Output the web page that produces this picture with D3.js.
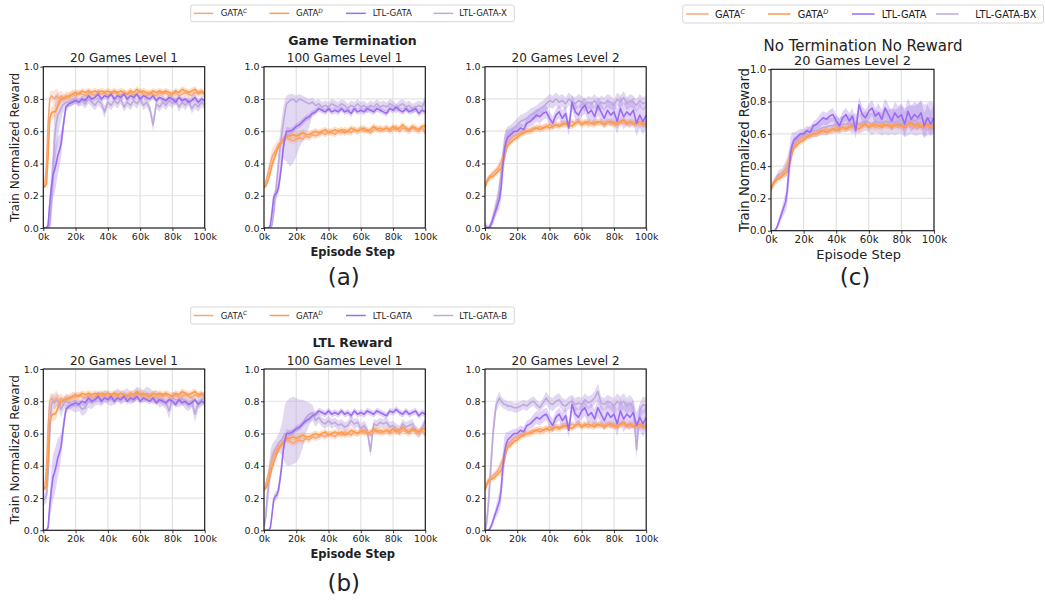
<!DOCTYPE html>
<html>
<head>
<meta charset="utf-8">
<script src="https://cdn.jsdelivr.net/npm/d3@7"></script>
<style>
body { margin: 0; background: #fff; }
text { font-family: "DejaVu Sans", sans-serif; fill: #222; }
</style>
</head>
<body>
<svg id="chart" width="1045" height="601"></svg>
<script>
// episode steps (in thousands)
var steps = [0,1,2,3,4,5,6,7,8,9,10,11,12,13,14,
  16,18,20,22,24,26,28,30,32,34,36,38,40,42,44,
  46,48,50,52,54,56,58,60,62,64,66,68,70,72,74,
  76,78,80,82,84,86,88,90,92,94,96,98,100];

var xTicks = [0,20,40,60,80,100];
var xTickLabels = ['0k','20k','40k','60k','80k','100k'];
var yTicks = [0,0.2,0.4,0.6,0.8,1.0];

var legendA = [['GATA','C'],['GATA','D'],['LTL-GATA',''],['LTL-GATA-X','']];
var legendB = [['GATA','C'],['GATA','D'],['LTL-GATA',''],['LTL-GATA-B','']];
var legendC = [['GATA','C'],['GATA','D'],['LTL-GATA',''],['LTL-GATA-BX','']];
var colors = ['#f8a77b','#fd9a4c','#9a6cef','#bea9df'];

// ---- 20 Games Level 1 (shared baselines) ----
var gataC_L1_20 = [0.25,0.27,0.40,0.65,0.80,0.82,0.81,0.80,0.82,0.81,0.80,0.82,0.81,0.80,0.82,
  0.81,0.83,0.82,0.84,0.83,0.82,0.84,0.83,0.82,0.84,0.83,0.84,0.82,0.83,0.84,
  0.83,0.82,0.84,0.83,0.84,0.82,0.83,0.85,0.83,0.82,0.84,0.83,0.82,0.84,0.83,
  0.84,0.82,0.83,0.84,0.82,0.83,0.84,0.83,0.82,0.84,0.83,0.84,0.83];
var gataC_L1_20_sd = [0.01,0.01,0.05,0.08,0.05,0.03,0.04,0.05,0.05,0.04,0.04,0.03,0.03,0.03,0.03,
  0.03,0.03,0.03,0.02,0.02,0.02,0.02,0.02,0.02,0.02,0.02,0.02,0.02,0.02,0.02,
  0.02,0.02,0.02,0.02,0.02,0.02,0.02,0.02,0.02,0.02,0.02,0.02,0.02,0.02,0.02,
  0.02,0.02,0.02,0.02,0.02,0.02,0.02,0.02,0.02,0.02,0.02,0.02,0.02];
var gataD_L1_20 = [0.25,0.26,0.27,0.45,0.68,0.71,0.72,0.72,0.73,0.76,0.78,0.80,0.80,0.81,0.81,
  0.82,0.83,0.84,0.83,0.85,0.84,0.85,0.84,0.85,0.84,0.85,0.84,0.85,0.84,0.85,
  0.84,0.85,0.84,0.83,0.85,0.84,0.86,0.84,0.85,0.84,0.83,0.85,0.84,0.85,0.84,
  0.85,0.84,0.83,0.85,0.84,0.86,0.85,0.84,0.85,0.86,0.84,0.85,0.83];
var gataD_L1_20_sd = [0.01,0.01,0.02,0.05,0.05,0.04,0.04,0.04,0.04,0.03,0.03,0.03,0.02,0.02,0.02,
  0.02,0.02,0.02,0.02,0.02,0.02,0.02,0.02,0.02,0.02,0.02,0.02,0.02,0.02,0.02,
  0.02,0.02,0.02,0.02,0.02,0.02,0.02,0.02,0.02,0.02,0.02,0.02,0.02,0.02,0.02,
  0.02,0.02,0.02,0.02,0.02,0.02,0.02,0.02,0.02,0.02,0.02,0.02,0.02];
var ltl_L1_20 = [0,0,0,0.02,0.15,0.25,0.33,0.36,0.40,0.45,0.48,0.52,0.60,0.68,0.75,
  0.77,0.78,0.79,0.78,0.80,0.79,0.82,0.80,0.81,0.83,0.80,0.82,0.81,0.83,0.80,
  0.82,0.81,0.83,0.80,0.82,0.81,0.83,0.80,0.82,0.81,0.80,0.82,0.79,0.81,0.80,
  0.79,0.81,0.80,0.78,0.81,0.79,0.80,0.78,0.79,0.81,0.78,0.80,0.79];
var ltl_L1_20_sd = [0,0,0,0.03,0.08,0.12,0.14,0.14,0.13,0.12,0.10,0.08,0.06,0.04,0.03,
  0.02,0.02,0.02,0.02,0.02,0.03,0.02,0.02,0.02,0.03,0.02,0.02,0.02,0.02,0.02,
  0.02,0.02,0.02,0.02,0.02,0.02,0.02,0.02,0.02,0.02,0.02,0.02,0.02,0.02,0.02,
  0.02,0.02,0.02,0.02,0.02,0.02,0.02,0.02,0.02,0.02,0.02,0.02,0.02];

// ---- 100 Games Level 1 (shared baselines) ----
var gataC_L1_100 = [0.25,0.28,0.32,0.36,0.40,0.44,0.46,0.48,0.50,0.52,0.53,0.54,0.55,0.56,0.56,
  0.55,0.54,0.55,0.56,0.55,0.57,0.56,0.58,0.57,0.58,0.59,0.58,0.60,0.59,0.58,
  0.60,0.59,0.61,0.60,0.59,0.61,0.60,0.62,0.60,0.61,0.59,0.61,0.62,0.60,0.61,
  0.62,0.60,0.61,0.63,0.60,0.62,0.61,0.60,0.62,0.61,0.60,0.62,0.59];
var gataC_L1_100_sd = [0.01,0.02,0.03,0.04,0.05,0.05,0.05,0.04,0.04,0.03,0.03,0.03,0.02,0.02,0.02,
  0.02,0.02,0.02,0.02,0.02,0.02,0.02,0.02,0.02,0.02,0.02,0.02,0.02,0.02,0.02,
  0.02,0.02,0.02,0.02,0.02,0.02,0.02,0.02,0.02,0.02,0.02,0.02,0.02,0.02,0.02,
  0.02,0.02,0.02,0.02,0.02,0.02,0.02,0.02,0.02,0.02,0.02,0.02,0.02];
var gataD_L1_100 = [0.25,0.26,0.28,0.31,0.35,0.39,0.42,0.45,0.48,0.50,0.52,0.53,0.55,0.56,0.57,
  0.57,0.58,0.57,0.58,0.59,0.58,0.58,0.59,0.60,0.59,0.60,0.61,0.59,0.60,0.61,
  0.60,0.61,0.59,0.60,0.62,0.61,0.60,0.61,0.62,0.60,0.61,0.63,0.61,0.62,0.61,
  0.62,0.61,0.63,0.61,0.62,0.64,0.62,0.61,0.63,0.62,0.61,0.63,0.63];
var gataD_L1_100_sd = [0.01,0.01,0.02,0.02,0.03,0.03,0.03,0.03,0.02,0.02,0.02,0.02,0.02,0.02,0.02,
  0.02,0.02,0.02,0.02,0.02,0.02,0.02,0.02,0.02,0.02,0.02,0.02,0.02,0.02,0.02,
  0.02,0.02,0.02,0.02,0.02,0.02,0.02,0.02,0.02,0.02,0.02,0.02,0.02,0.02,0.02,
  0.02,0.02,0.02,0.02,0.02,0.02,0.02,0.02,0.02,0.02,0.02,0.02,0.02];
var ltl_L1_100 = [0,0,0,0,0.02,0.10,0.19,0.21,0.22,0.25,0.32,0.40,0.50,0.56,0.60,
  0.60,0.61,0.63,0.64,0.66,0.68,0.69,0.71,0.72,0.74,0.73,0.72,0.74,0.72,0.73,
  0.72,0.74,0.72,0.73,0.71,0.74,0.72,0.73,0.72,0.74,0.73,0.72,0.74,0.73,0.72,
  0.71,0.74,0.73,0.75,0.73,0.72,0.74,0.72,0.73,0.74,0.71,0.73,0.72];
var ltl_L1_100_sd = [0,0,0,0,0.01,0.03,0.03,0.03,0.03,0.04,0.05,0.05,0.04,0.03,0.03,
  0.02,0.02,0.02,0.02,0.02,0.02,0.02,0.02,0.02,0.02,0.02,0.02,0.02,0.02,0.02,
  0.02,0.02,0.02,0.02,0.02,0.02,0.02,0.02,0.02,0.02,0.02,0.02,0.02,0.02,0.02,
  0.02,0.02,0.02,0.02,0.02,0.02,0.02,0.02,0.02,0.02,0.02,0.02,0.02];

// ---- 20 Games Level 2 (shared baselines) ----
var gataC_L2_20 = [0.26,0.29,0.31,0.32,0.33,0.34,0.35,0.36,0.37,0.39,0.41,0.44,0.47,0.50,0.53,
  0.55,0.57,0.58,0.59,0.60,0.60,0.61,0.62,0.62,0.63,0.62,0.63,0.64,0.63,0.64,
  0.64,0.65,0.64,0.65,0.66,0.65,0.66,0.65,0.66,0.64,0.65,0.66,0.65,0.66,0.65,
  0.66,0.65,0.64,0.66,0.65,0.66,0.64,0.65,0.66,0.65,0.64,0.65,0.64];
var gataC_L2_20_sd = [0.01,0.02,0.02,0.02,0.02,0.02,0.02,0.02,0.02,0.03,0.03,0.03,0.03,0.03,0.02,
  0.02,0.02,0.02,0.02,0.02,0.02,0.02,0.02,0.02,0.02,0.02,0.02,0.02,0.02,0.02,
  0.02,0.02,0.02,0.02,0.02,0.02,0.02,0.02,0.02,0.02,0.02,0.02,0.02,0.02,0.02,
  0.02,0.02,0.02,0.02,0.02,0.02,0.02,0.02,0.02,0.02,0.02,0.02,0.02];
var gataD_L2_20 = [0.25,0.28,0.30,0.31,0.32,0.32,0.33,0.34,0.35,0.36,0.37,0.40,0.44,0.48,0.51,
  0.53,0.55,0.56,0.58,0.59,0.60,0.60,0.61,0.62,0.61,0.62,0.63,0.62,0.63,0.64,
  0.63,0.64,0.65,0.64,0.63,0.65,0.66,0.64,0.65,0.66,0.65,0.64,0.66,0.65,0.64,
  0.65,0.66,0.65,0.64,0.66,0.67,0.65,0.66,0.64,0.65,0.66,0.64,0.65];
var gataD_L2_20_sd = [0.01,0.02,0.02,0.02,0.02,0.02,0.02,0.02,0.02,0.02,0.03,0.03,0.03,0.03,0.02,
  0.02,0.02,0.02,0.02,0.02,0.02,0.02,0.02,0.02,0.02,0.02,0.02,0.02,0.02,0.02,
  0.02,0.02,0.02,0.02,0.02,0.02,0.02,0.02,0.02,0.02,0.02,0.02,0.02,0.02,0.02,
  0.02,0.02,0.02,0.02,0.02,0.02,0.02,0.02,0.02,0.02,0.02,0.02,0.02];
var ltl_L2_20 = [0,0,0,0.01,0.03,0.06,0.09,0.12,0.15,0.18,0.25,0.38,0.48,0.53,0.56,
  0.58,0.60,0.60,0.62,0.61,0.65,0.66,0.68,0.70,0.69,0.71,0.72,0.68,0.65,0.70,
  0.72,0.68,0.71,0.62,0.78,0.72,0.70,0.74,0.76,0.71,0.73,0.69,0.76,0.72,0.68,
  0.73,0.70,0.72,0.66,0.74,0.69,0.72,0.70,0.73,0.65,0.70,0.66,0.70];
var ltl_L2_20_sd = [0,0,0,0.01,0.02,0.03,0.03,0.04,0.05,0.06,0.08,0.10,0.10,0.08,0.05,
  0.04,0.03,0.03,0.03,0.03,0.03,0.03,0.04,0.04,0.04,0.04,0.04,0.04,0.04,0.04,
  0.04,0.05,0.05,0.05,0.05,0.05,0.05,0.05,0.05,0.05,0.06,0.06,0.06,0.06,0.06,
  0.07,0.07,0.07,0.08,0.08,0.08,0.08,0.08,0.08,0.08,0.08,0.08,0.08];

// ---- fourth series per panel ----
var ltlX_a1 = [0,0,0,0,0.02,0.15,0.35,0.55,0.65,0.70,0.72,0.74,0.76,0.77,0.78,
  0.78,0.79,0.80,0.78,0.79,0.77,0.80,0.78,0.76,0.79,0.77,0.72,0.78,0.76,0.79,
  0.77,0.80,0.75,0.78,0.76,0.79,0.77,0.80,0.76,0.78,0.74,0.64,0.77,0.75,0.78,
  0.76,0.79,0.77,0.80,0.75,0.78,0.76,0.79,0.74,0.77,0.75,0.78,0.76];
var ltlX_a1_sd = [0,0,0,0,0.05,0.12,0.18,0.20,0.18,0.14,0.10,0.07,0.05,0.04,0.03,
  0.03,0.03,0.03,0.03,0.03,0.03,0.03,0.03,0.03,0.03,0.03,0.04,0.03,0.03,0.03,
  0.03,0.03,0.03,0.03,0.03,0.03,0.03,0.03,0.03,0.03,0.03,0.04,0.03,0.03,0.03,
  0.03,0.03,0.03,0.03,0.03,0.03,0.03,0.03,0.03,0.03,0.03,0.03,0.03];
var ltlX_a2 = [0,0,0,0,0,0.02,0.10,0.20,0.30,0.40,0.50,0.58,0.65,0.72,0.77,
  0.79,0.80,0.78,0.80,0.79,0.78,0.77,0.78,0.76,0.77,0.75,0.76,0.75,0.77,0.76,
  0.75,0.77,0.76,0.74,0.76,0.75,0.77,0.75,0.76,0.74,0.76,0.75,0.77,0.75,0.76,
  0.75,0.77,0.76,0.74,0.76,0.77,0.75,0.76,0.74,0.75,0.76,0.75,0.79];
var ltlX_a2_sd = [0,0,0,0,0,0.01,0.03,0.05,0.06,0.08,0.10,0.10,0.10,0.08,0.05,
  0.04,0.03,0.04,0.03,0.03,0.03,0.03,0.03,0.03,0.03,0.03,0.03,0.03,0.03,0.03,
  0.03,0.03,0.03,0.03,0.03,0.03,0.03,0.03,0.03,0.03,0.03,0.03,0.03,0.03,0.03,
  0.03,0.03,0.03,0.03,0.03,0.03,0.03,0.03,0.03,0.03,0.03,0.03,0.03];
var ltlX_a2_lo = [0,0,0,0,0,0.02,0.05,0.08,0.10,0.12,0.12,0.15,0.22,0.30,0.36,
  0.41,0.40,0.34,0.30,0.25,0.20,0.15,0.08,0.05,0.03,0.03,0.03,0.03,0.03,0.03,
  0.03,0.03,0.03,0.03,0.03,0.03,0.03,0.03,0.03,0.03,0.03,0.03,0.03,0.03,0.03,
  0.03,0.03,0.03,0.03,0.03,0.03,0.03,0.03,0.03,0.03,0.03,0.03,0.03];
var ltlX_a3 = [0.02,0.01,0,0.01,0.03,0.06,0.10,0.14,0.18,0.25,0.33,0.42,0.50,0.55,0.58,
  0.60,0.62,0.64,0.66,0.67,0.68,0.70,0.71,0.72,0.74,0.75,0.77,0.79,0.78,0.80,
  0.78,0.79,0.77,0.80,0.78,0.77,0.79,0.78,0.76,0.78,0.77,0.79,0.76,0.78,0.77,
  0.79,0.78,0.76,0.80,0.78,0.81,0.77,0.79,0.78,0.76,0.79,0.77,0.78];
var ltlX_a3_sd = [0.02,0.02,0.01,0.02,0.03,0.04,0.05,0.05,0.06,0.07,0.08,0.08,0.07,0.06,0.05,
  0.04,0.04,0.04,0.04,0.04,0.04,0.04,0.04,0.04,0.04,0.04,0.04,0.04,0.04,0.04,
  0.04,0.04,0.04,0.04,0.04,0.04,0.04,0.04,0.04,0.04,0.04,0.04,0.04,0.04,0.04,
  0.04,0.04,0.04,0.04,0.04,0.04,0.04,0.04,0.04,0.04,0.04,0.04,0.04];
var ltlB_b1 = [0.18,0.20,0.22,0.35,0.60,0.78,0.80,0.79,0.81,0.80,0.78,0.75,0.77,0.79,0.80,
  0.79,0.78,0.77,0.78,0.75,0.76,0.80,0.79,0.81,0.82,0.81,0.83,0.82,0.81,0.82,
  0.84,0.82,0.83,0.84,0.82,0.83,0.85,0.84,0.83,0.85,0.84,0.82,0.83,0.80,0.81,
  0.79,0.74,0.82,0.81,0.80,0.82,0.79,0.78,0.80,0.72,0.79,0.81,0.82];
var ltlB_b1_sd = [0.03,0.04,0.05,0.10,0.12,0.06,0.04,0.04,0.04,0.04,0.05,0.05,0.04,0.04,0.04,
  0.04,0.04,0.04,0.04,0.04,0.04,0.04,0.04,0.04,0.04,0.04,0.04,0.04,0.04,0.04,
  0.04,0.04,0.04,0.04,0.04,0.04,0.04,0.04,0.04,0.04,0.04,0.04,0.04,0.04,0.04,
  0.04,0.05,0.04,0.04,0.04,0.04,0.04,0.04,0.04,0.05,0.04,0.04,0.04];
var ltlB_b2 = [0.03,0.08,0.20,0.30,0.40,0.45,0.48,0.50,0.52,0.54,0.55,0.56,0.58,0.60,0.60,
  0.61,0.62,0.62,0.63,0.66,0.70,0.72,0.73,0.68,0.70,0.67,0.66,0.68,0.66,0.67,
  0.65,0.66,0.64,0.65,0.68,0.66,0.67,0.63,0.65,0.62,0.49,0.66,0.65,0.67,0.66,
  0.67,0.64,0.65,0.63,0.62,0.66,0.64,0.65,0.66,0.62,0.60,0.63,0.68];
var ltlB_b2_sd = [0.02,0.05,0.08,0.10,0.10,0.08,0.07,0.06,0.06,0.06,0.07,0.10,0.14,0.18,0.20,
  0.21,0.21,0.20,0.18,0.15,0.10,0.07,0.05,0.04,0.03,0.03,0.03,0.03,0.03,0.03,
  0.03,0.03,0.03,0.03,0.03,0.03,0.03,0.03,0.03,0.03,0.04,0.03,0.03,0.03,0.03,
  0.03,0.03,0.03,0.03,0.03,0.03,0.03,0.03,0.03,0.03,0.03,0.03,0.03];
var ltlB_b3 = [0.0,0.05,0.15,0.30,0.45,0.60,0.70,0.78,0.80,0.82,0.80,0.79,0.78,0.78,0.77,
  0.77,0.76,0.76,0.77,0.78,0.77,0.79,0.80,0.78,0.76,0.79,0.82,0.79,0.78,0.80,
  0.81,0.78,0.77,0.79,0.80,0.78,0.79,0.78,0.81,0.79,0.80,0.82,0.86,0.79,0.78,
  0.80,0.79,0.77,0.80,0.78,0.80,0.77,0.79,0.76,0.50,0.74,0.78,0.77];
var ltlB_b3_sd = [0.02,0.05,0.08,0.10,0.10,0.08,0.06,0.04,0.04,0.04,0.03,0.03,0.03,0.03,0.03,
  0.03,0.03,0.03,0.03,0.03,0.03,0.03,0.03,0.03,0.03,0.03,0.04,0.04,0.04,0.04,
  0.04,0.04,0.04,0.04,0.04,0.04,0.04,0.04,0.04,0.04,0.04,0.04,0.05,0.04,0.04,
  0.04,0.04,0.05,0.05,0.05,0.05,0.05,0.05,0.05,0.06,0.05,0.05,0.05];
var ltlBX_c = [0.26,0.28,0.30,0.32,0.34,0.35,0.35,0.36,0.37,0.38,0.40,0.44,0.48,0.51,0.54,
  0.56,0.58,0.59,0.60,0.61,0.62,0.62,0.63,0.64,0.64,0.65,0.65,0.66,0.65,0.66,
  0.66,0.67,0.66,0.67,0.66,0.67,0.68,0.67,0.66,0.68,0.67,0.66,0.68,0.67,0.68,
  0.67,0.68,0.69,0.67,0.68,0.69,0.68,0.69,0.70,0.68,0.69,0.70,0.69];
var ltlBX_c_sd = [0.02,0.02,0.02,0.02,0.02,0.03,0.03,0.03,0.04,0.05,0.06,0.06,0.05,0.04,0.04,
  0.03,0.03,0.03,0.03,0.04,0.04,0.04,0.04,0.05,0.05,0.05,0.05,0.05,0.05,0.05,
  0.05,0.05,0.06,0.06,0.06,0.06,0.06,0.06,0.07,0.07,0.07,0.07,0.08,0.08,0.08,
  0.08,0.08,0.09,0.09,0.09,0.09,0.09,0.10,0.10,0.10,0.10,0.10,0.10];

function S(v, sd, lo) { return {v: v, sd: sd, lo: lo || sd}; }
var base_L1_20 = [S(gataC_L1_20, gataC_L1_20_sd), S(gataD_L1_20, gataD_L1_20_sd), S(ltl_L1_20, ltl_L1_20_sd)];
var base_L1_100 = [S(gataC_L1_100, gataC_L1_100_sd), S(gataD_L1_100, gataD_L1_100_sd), S(ltl_L1_100, ltl_L1_100_sd)];
var base_L2_20 = [S(gataC_L2_20, gataC_L2_20_sd), S(gataD_L2_20, gataD_L2_20_sd), S(ltl_L2_20, ltl_L2_20_sd)];

var svg = d3.select('#chart');

function drawPanel(p) {
  var g = svg.append('g').attr('transform', `translate(${p.left},${p.top})`);
  var x = d3.scaleLinear().domain([0, 100]).range([0, p.w]);
  var y = d3.scaleLinear().domain([0, 1]).range([p.h, 0]);
  var fs = p.fs || 1;

  // grid
  g.append('g').selectAll('line').data(xTicks).join('line')
    .attr('x1', d => x(d)).attr('x2', d => x(d)).attr('y1', 0).attr('y2', p.h)
    .attr('stroke', '#e3e3e3').attr('stroke-width', 1.2);
  g.append('g').selectAll('line').data(yTicks).join('line')
    .attr('y1', d => y(d)).attr('y2', d => y(d)).attr('x1', 0).attr('x2', p.w)
    .attr('stroke', '#e3e3e3').attr('stroke-width', 1.2);

  var clipId = 'clip' + p.id;
  g.append('clipPath').attr('id', clipId).append('rect').attr('width', p.w).attr('height', p.h);
  var plot = g.append('g').attr('clip-path', `url(#${clipId})`);

  var area = d3.area().x((d, i) => x(steps[i]))
    .y0(d => y(d[0])).y1(d => y(d[1]));
  var line = d3.line().x((d, i) => x(steps[i])).y(d => y(d));

  // fourth series behind, then baselines
  var order = [3, 0, 1, 2];
  order.forEach(function (k) {
    var s = p.series[k];
    var band = s.v.map((v, i) => [v - s.lo[i], v + s.sd[i]]);
    plot.append('path').datum(band).attr('d', area)
      .attr('fill', colors[k]).attr('fill-opacity', k == 3 ? 0.45 : 0.3);
  });
  order.forEach(function (k) {
    var s = p.series[k];
    plot.append('path').datum(s.v).attr('d', line)
      .attr('fill', 'none').attr('stroke', colors[k]).attr('stroke-width', 1.6)
      .attr('stroke-linejoin', 'round');
  });

  // axes
  var xaxis = d3.axisBottom(x).tickValues(xTicks).tickFormat((d, i) => xTickLabels[i])
    .tickSize(3).tickPadding(p.fs ? 1.6 : 2).tickSizeOuter(0);
  var yaxis = d3.axisLeft(y).tickValues(yTicks).tickFormat(d3.format('.1f'))
    .tickSize(3).tickPadding(1.5 * fs).tickSizeOuter(0);
  var xg = g.append('g').attr('transform', `translate(0,${p.h})`).call(xaxis);
  var yg = g.append('g').call(yaxis);
  [xg, yg].forEach(function (a) {
    a.select('.domain').remove();
    a.selectAll('line').attr('stroke', '#222').attr('stroke-width', 0.9);
    a.selectAll('text').attr('font-size', 9.5 * fs).attr('font-family', 'DejaVu Sans').attr('fill', '#222');
  });

  g.append('rect').attr('width', p.w).attr('height', p.h)
    .attr('fill', 'none').attr('stroke', '#111').attr('stroke-width', 1.1);

  g.append('text').attr('x', p.w / 2).attr('y', -4.3).attr('text-anchor', 'middle')
    .attr('font-size', p.titleSize || 12).text(p.title);

  if (p.ylabel) {
    svg.append('text').attr('transform', `translate(${p.ylabel[0]},${p.top + p.h / 2}) rotate(-90)`)
      .attr('text-anchor', 'middle').attr('dominant-baseline', 'central')
      .attr('font-size', p.ylabel[1]).text('Train Normalized Reward');
  }
}

var panels = [
  {id: 'a1', left: 43.3, top: 66.7, w: 161.4, h: 161.3, title: '20 Games Level 1', series: base_L1_20.concat([S(ltlX_a1, ltlX_a1_sd)]), ylabel: [15, 12]},
  {id: 'a2', left: 264, top: 66.7, w: 161.3, h: 161.3, title: '100 Games Level 1', series: base_L1_100.concat([S(ltlX_a2, ltlX_a2_sd, ltlX_a2_lo)])},
  {id: 'a3', left: 485, top: 66.7, w: 161.2, h: 161.3, title: '20 Games Level 2', series: base_L2_20.concat([S(ltlX_a3, ltlX_a3_sd)])},
  {id: 'b1', left: 43.3, top: 369, w: 161.4, h: 161.3, title: '20 Games Level 1', series: base_L1_20.concat([S(ltlB_b1, ltlB_b1_sd)]), ylabel: [15, 12]},
  {id: 'b2', left: 264, top: 369, w: 161.3, h: 161.3, title: '100 Games Level 1', series: base_L1_100.concat([S(ltlB_b2, ltlB_b2_sd)])},
  {id: 'b3', left: 485, top: 369, w: 161.2, h: 161.3, title: '20 Games Level 2', series: base_L2_20.concat([S(ltlB_b3, ltlB_b3_sd)])},
  {id: 'c', left: 771, top: 69.3, w: 163, h: 161.4, title: '20 Games Level 2', titleSize: 13, fs: 1.08, series: base_L2_20.concat([S(ltlBX_c, ltlBX_c_sd)]), ylabel: [744, 13.2]}
];
panels.forEach(drawPanel);

// figure texts
function label(x, y, txt, size, opts) {
  opts = opts || {};
  return svg.append('text').attr('x', x).attr('y', y).attr('text-anchor', 'middle')
    .attr('font-size', size).attr('font-weight', opts.bold ? 'bold' : null)
    .attr('font-family', opts.serif ? 'Liberation Serif, serif' : null).text(txt);
}
label(352.5, 44.5, 'Game Termination', 12.5, {bold: true});
label(352.5, 347, 'LTL Reward', 12.5, {bold: true});
label(352.7, 255.5, 'Episode Step', 11.5, {bold: true});
label(352.7, 558, 'Episode Step', 11.5, {bold: true});
label(863, 51, 'No Termination No Reward', 15);
label(858.7, 258.5, 'Episode Step', 13);
label(343.7, 284.5, '(a)', 23, {serif: true});
label(343.7, 591, '(b)', 23, {serif: true});
label(855, 284.5, '(c)', 23, {serif: true});

// legends
function legend(box, lineX, textX, labels, fs) {
  var g = svg.append('g');
  g.append('rect').attr('x', box[0]).attr('y', box[1]).attr('width', box[2] - box[0]).attr('height', box[3] - box[1])
    .attr('rx', 2).attr('fill', '#fff').attr('stroke', '#d6d6d6').attr('stroke-width', 1);
  var cy = (box[1] + box[3]) / 2;
  labels.forEach(function (lab, i) {
    g.append('line').attr('x1', lineX[i]).attr('x2', lineX[i] + fs * 2.3).attr('y1', cy).attr('y2', cy)
      .attr('stroke', colors[i]).attr('stroke-width', 1.5);
    var t = g.append('text').attr('x', textX[i]).attr('y', cy).attr('dy', '0.36em').attr('font-size', fs);
    t.append('tspan').text(lab[0]);
    if (lab[1]) t.append('tspan').attr('font-size', fs * 0.68).attr('font-style', 'italic').attr('dy', '-0.55em').text(lab[1]);
  });
}
legend([190.7, 5, 514.3, 21.7], [193.5, 269.5, 346, 433.5], [220.7, 296, 372.7, 459.3], legendA, 8.6);
legend([190.7, 307, 514.3, 324], [193.5, 269.5, 346, 433.5], [220.7, 296, 372.7, 459.3], legendB, 8.6);
legend([682.7, 5, 1043.5, 23], [686, 768, 852, 936], [715, 797.7, 881.7, 975.3], legendC, 9.8);
</script>
</body>
</html>
